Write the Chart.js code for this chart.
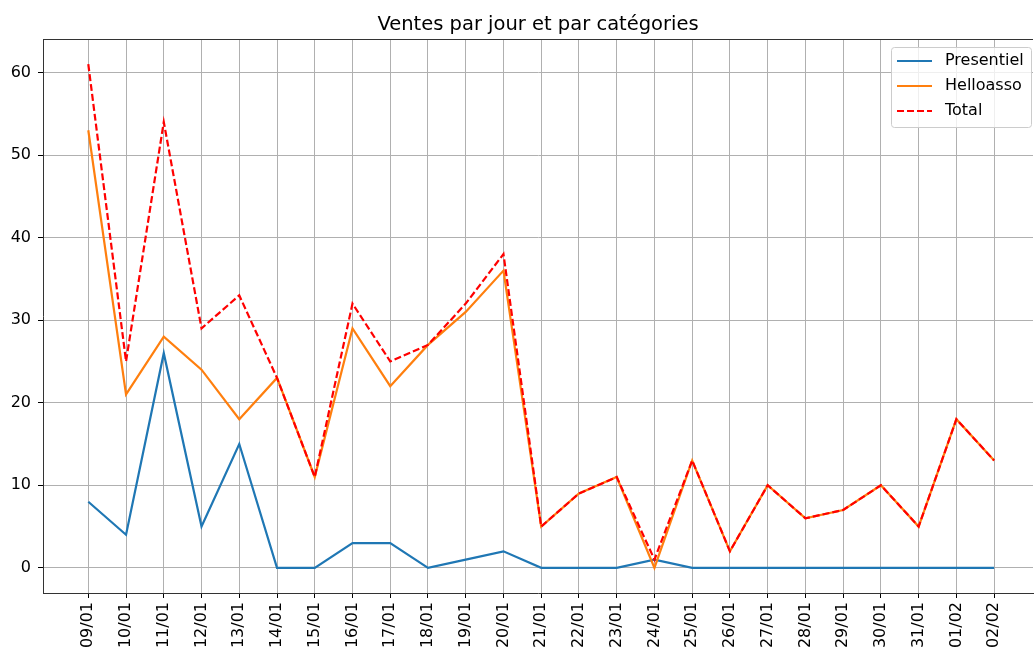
<!DOCTYPE html>
<html><head><meta charset="utf-8">
<script src="https://cdn.jsdelivr.net/npm/chart.js@4/dist/chart.umd.min.js"></script>
<style>html,body{margin:0;padding:0;background:#fff;overflow:hidden}</style>
</head><body>
<canvas id="c" width="1034" height="654"></canvas>
<script>
const categories = ["09/01","10/01","11/01","12/01","13/01","14/01","15/01","16/01","17/01","18/01","19/01","20/01","21/01","22/01","23/01","24/01","25/01","26/01","27/01","28/01","29/01","30/01","31/01","01/02","02/02"];
const presentiel = [8,4,26,5,15,0,0,3,3,0,1,2,0,0,0,1,0,0,0,0,0,0,0,0,0];
const helloasso = [53,21,28,24,18,23,11,29,22,27,31,36,5,9,11,0,13,2,10,6,7,10,5,18,13];
const total = [61,25,54,29,33,23,11,32,25,27,32,38,5,9,11,1,13,2,10,6,7,10,5,18,13];
const yTicks = [0,10,20,30,40,50,60];
const title = "Ventes par jour et par catégories";

const toXY = arr => arr.map((v,i)=>({x:i,y:v}));
const FONT = "'DejaVu Sans', sans-serif";

const overlay = {
  id:'overlay',
  afterDraw(chart){
    const ctx = chart.ctx, a = chart.chartArea;
    ctx.save();
    // top spine
    ctx.strokeStyle = '#333';
    ctx.lineWidth = 1;
    ctx.beginPath(); ctx.moveTo(a.left, Math.floor(a.top)+0.5); ctx.lineTo(a.right, Math.floor(a.top)+0.5); ctx.stroke();
    ctx.fillStyle = '#000';
    ctx.font = "19.5px " + FONT;
    ctx.textAlign = 'center';
    ctx.textBaseline = 'alphabetic';
    ctx.fillText(title, (a.left + a.right)/2, 30);
    // legend
    const bx = 891, by = 47, bw = 140, bh = 80;
    ctx.fillStyle = 'rgba(255,255,255,0.8)';
    ctx.strokeStyle = '#cccccc';
    ctx.lineWidth = 1;
    ctx.beginPath();
    if (ctx.roundRect) ctx.roundRect(bx+0.5, by+0.5, bw, bh, 3); else ctx.rect(bx+0.5, by+0.5, bw, bh);
    ctx.fill(); ctx.stroke();
    ctx.font = "16px " + FONT;
    ctx.textAlign = 'left';
    ctx.textBaseline = 'middle';
    chart.data.datasets.forEach((ds,i)=>{
      const y = 61 + i*25;
      ctx.strokeStyle = ds.borderColor;
      ctx.lineWidth = ds.borderWidth;
      ctx.setLineDash(ds.borderDash || []);
      ctx.beginPath(); ctx.moveTo(897, y); ctx.lineTo(932, y); ctx.stroke();
      ctx.setLineDash([]);
      ctx.fillStyle = '#000';
      ctx.fillText(ds.label, 945, y);
    });
    ctx.restore();
  }
};

new Chart(document.getElementById('c'), {
  type:'line',
  data:{
    datasets:[
      {label:'Presentiel', data:toXY(presentiel), borderColor:'#1f77b4', borderWidth:2.2, pointRadius:0, order:3, tension:0},
      {label:'Helloasso', data:toXY(helloasso), borderColor:'#ff7f0e', borderWidth:2.2, pointRadius:0, order:2, tension:0},
      {label:'Total', data:toXY(total), borderColor:'#ff0000', borderWidth:2.2, borderDash:[7,3], pointRadius:0, order:1, tension:0}
    ]
  },
  options:{
    responsive:false, animation:false, devicePixelRatio:1,
    layout:{padding:{top:39, right:1, left:0, bottom:0}},
    plugins:{legend:{display:false}, tooltip:{enabled:false}, title:{display:false}},
    scales:{
      x:{
        type:'linear', min:-1.2, max:25.03,
        afterBuildTicks(s){ s.ticks = categories.map((c,i)=>({value:i})); },
        afterFit(s){ s.height = 61; },
        ticks:{ autoSkip:false, minRotation:90, maxRotation:90, padding:4, color:'#000',
          font:{family:FONT, size:16},
          callback:(v)=>categories[v] },
        grid:{ color:'#b0b0b0', lineWidth:1, tickColor:'#000', tickLength:5 },
        border:{ color:'#333', width:1 }
      },
      y:{
        type:'linear', min:-3.05, max:64.05,
        afterBuildTicks(s){ s.ticks = yTicks.map(v=>({value:v})); },
        afterFit(s){ s.width = 43; },
        ticks:{ color:'#000', padding:7, font:{family:FONT, size:16} },
        grid:{ color:'#b0b0b0', lineWidth:1, tickColor:'#000', tickLength:5 },
        border:{ color:'#333', width:1 }
      }
    }
  },
  plugins:[overlay]
});
</script>
</body></html>
